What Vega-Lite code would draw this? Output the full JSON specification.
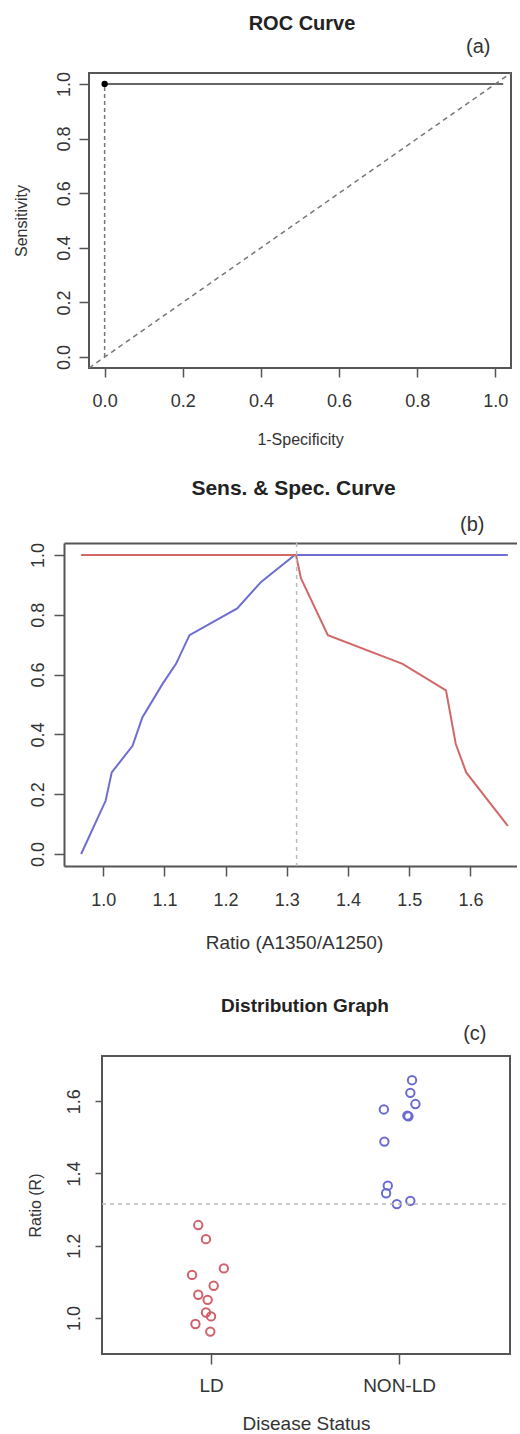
{
  "$schema": "https://vega.github.io/schema/vega-lite/v6.json",
  "background": "white",
  "padding": {"left": 0, "top": 13, "right": 0, "bottom": 0},
  "spacing": 30,
  "resolve": {"scale": {"color": "independent"}},
  "config": {
    "font": "Liberation Sans",
    "view": {"stroke": null},
    "axis": {
      "grid": false,
      "labelColor": "#333",
      "titleColor": "#333",
      "tickColor": "#555",
      "tickWidth": 1.5,
      "domainColor": "#555",
      "domainWidth": 2,
      "labelFont": "Liberation Sans",
      "titleFont": "Liberation Sans",
      "titleFontWeight": "normal",
      "labelFlush": false,
      "labelOverlap": false,
      "minExtent": 0
    },
    "title": {"font": "Liberation Sans", "fontWeight": "bold", "color": "#222", "anchor": "middle", "frame": "group"}
  },
  "vconcat": [
    {"spacing": 0, "hconcat": [
    {"width": 12, "height": 1, "data": {"values": []}, "mark": "point"},
    {
      "width": 422,
      "height": 295,
      "title": {"text": "ROC Curve", "fontSize": 20, "offset": 2, "dx": 2},
      "view": {"stroke": "#555", "strokeWidth": 2},
      "resolve": {"axis": {"x": "independent"}},
      "layer": [
        {
          "data": {"values": [{"fpr": 0, "sens": 1}, {"fpr": 1.02, "sens": 1}]},
          "mark": {"type": "line", "color": "#666", "strokeWidth": 2},
          "encoding": {
            "x": {"field": "fpr", "type": "quantitative", "scale": {"domain": [-0.04, 1.04], "nice": false, "zero": false},
              "axis": {"orient": "bottom", "values": [0, 0.2, 0.4, 0.6, 0.8, 1], "format": ".1f", "title": "1-Specificity", "tickSize": 9, "labelPadding": 15, "labelFontSize": 18, "titleFontSize": 16, "titlePadding": 21, "domain": false}},
            "y": {"field": "sens", "type": "quantitative", "scale": {"domain": [-0.04, 1.04], "nice": false, "zero": false},
              "axis": {"values": [0, 0.2, 0.4, 0.6, 0.8, 1], "format": ".1f", "title": "Sensitivity", "tickSize": 10, "labelPadding": 6, "labelFontSize": 18, "labelAngle": -90, "labelAlign": "center", "labelBaseline": "bottom", "titleFontSize": 16, "titlePadding": 26, "domain": false}}
          }
        },
        {
          "data": {"values": [{"fpr": 0, "sens": 0}, {"fpr": 0, "sens": 1}]},
          "mark": {"type": "line", "color": "#777", "strokeWidth": 1.5, "strokeDash": [4, 3]},
          "encoding": {
            "x": {"field": "fpr", "type": "quantitative", "axis": null},
            "y": {"field": "sens", "type": "quantitative",
              "axis": {"values": [0, 0.2, 0.4, 0.6, 0.8, 1], "format": ".1f", "title": "Sensitivity", "tickSize": 10, "labelPadding": 6, "labelFontSize": 18, "labelAngle": -90, "labelAlign": "center", "labelBaseline": "bottom", "titleFontSize": 16, "titlePadding": 26, "domain": false}},
            "order": {"field": "sens", "type": "quantitative"}
          }
        },
        {
          "data": {"values": [{"fpr": -0.04, "sens": -0.04}, {"fpr": 1.04, "sens": 1.04}]},
          "mark": {"type": "line", "color": "#777", "strokeWidth": 1.5, "strokeDash": [5, 4]},
          "encoding": {
            "x": {"field": "fpr", "type": "quantitative",
              "axis": {"orient": "top", "title": "(a)", "labels": false, "ticks": false, "domain": false, "titleFontSize": 20, "titleAlign": "right", "titleX": 401, "titlePadding": 17, "titleColor": "#333"}},
            "y": {"field": "sens", "type": "quantitative",
              "axis": {"values": [0, 0.2, 0.4, 0.6, 0.8, 1], "format": ".1f", "title": "Sensitivity", "tickSize": 10, "labelPadding": 6, "labelFontSize": 18, "labelAngle": -90, "labelAlign": "center", "labelBaseline": "bottom", "titleFontSize": 16, "titlePadding": 26, "domain": false}}
          }
        },
        {
          "data": {"values": [{"fpr": 0, "sens": 1}]},
          "mark": {"type": "point", "filled": true, "color": "#000", "size": 40, "opacity": 1},
          "encoding": {
            "x": {"field": "fpr", "type": "quantitative", "axis": null},
            "y": {"field": "sens", "type": "quantitative",
              "axis": {"values": [0, 0.2, 0.4, 0.6, 0.8, 1], "format": ".1f", "title": "Sensitivity", "tickSize": 10, "labelPadding": 6, "labelFontSize": 18, "labelAngle": -90, "labelAlign": "center", "labelBaseline": "bottom", "titleFontSize": 16, "titlePadding": 26, "domain": false}}
          }
        }
      ]
    }
    ]},
    {"spacing": 0, "hconcat": [
    {"width": 29, "height": 1, "data": {"values": []}, "mark": "point"},
    {
      "width": 453,
      "height": 323,
      "title": {"text": "Sens. & Spec. Curve", "fontSize": 21, "offset": 15, "dx": 3},
      "resolve": {"axis": {"x": "independent"}},
      "layer": [
        {
          "data": {"values": [
            {"ratio": 0.964, "val": 0.0, "series": "Sensitivity"},
            {"ratio": 1.004, "val": 0.178, "series": "Sensitivity"},
            {"ratio": 1.014, "val": 0.273, "series": "Sensitivity"},
            {"ratio": 1.048, "val": 0.362, "series": "Sensitivity"},
            {"ratio": 1.064, "val": 0.457, "series": "Sensitivity"},
            {"ratio": 1.097, "val": 0.569, "series": "Sensitivity"},
            {"ratio": 1.119, "val": 0.636, "series": "Sensitivity"},
            {"ratio": 1.141, "val": 0.732, "series": "Sensitivity"},
            {"ratio": 1.219, "val": 0.821, "series": "Sensitivity"},
            {"ratio": 1.258, "val": 0.91, "series": "Sensitivity"},
            {"ratio": 1.313, "val": 1.0, "series": "Sensitivity"},
            {"ratio": 1.661, "val": 1.0, "series": "Sensitivity"},
            {"ratio": 0.964, "val": 1.0, "series": "Specificity"},
            {"ratio": 1.315, "val": 1.0, "series": "Specificity"},
            {"ratio": 1.323, "val": 0.922, "series": "Specificity"},
            {"ratio": 1.367, "val": 0.732, "series": "Specificity"},
            {"ratio": 1.489, "val": 0.636, "series": "Specificity"},
            {"ratio": 1.56, "val": 0.547, "series": "Specificity"},
            {"ratio": 1.576, "val": 0.368, "series": "Specificity"},
            {"ratio": 1.593, "val": 0.273, "series": "Specificity"},
            {"ratio": 1.661, "val": 0.094, "series": "Specificity"}
          ]},
          "mark": {"type": "line", "strokeWidth": 2},
          "encoding": {
            "x": {"field": "ratio", "type": "quantitative", "scale": {"domain": [0.936, 1.676], "nice": false, "zero": false},
              "axis": {"orient": "bottom", "values": [1.0, 1.1, 1.2, 1.3, 1.4, 1.5, 1.6], "format": ".1f", "title": ["Ratio (A1350/A1250)", " "], "titleLineHeight": 14, "titleX": 230, "tickSize": 10, "labelPadding": 15, "labelFontSize": 18, "titleFontSize": 19, "titlePadding": 24, "domain": true}},
            "y": {"field": "val", "type": "quantitative", "scale": {"domain": [-0.04, 1.04], "nice": false, "zero": false},
              "axis": {"values": [0, 0.2, 0.4, 0.6, 0.8, 1], "format": ".1f", "title": null, "tickSize": 10, "labelPadding": 7, "labelFontSize": 18, "labelAngle": -90, "labelAlign": "center", "labelBaseline": "bottom", "domain": true}},
            "color": {"field": "series", "type": "nominal", "scale": {"domain": ["Sensitivity", "Specificity"], "range": ["#6d6dd2", "#d06868"]}, "legend": null}
          }
        },
        {
          "data": {"values": [{"cutoff": 1.316}]},
          "mark": {"type": "rule", "color": "#bbb", "strokeWidth": 1.5, "strokeDash": [4, 4]},
          "encoding": {
            "x": {"field": "cutoff", "type": "quantitative",
              "axis": {"orient": "top", "title": "(b)", "labels": false, "ticks": false, "domain": true, "titleFontSize": 20, "titleAlign": "right", "titleX": 420, "titlePadding": 9, "titleColor": "#333"}}
          }
        }
      ]
    }
    ]},
    {"spacing": 0, "hconcat": [
    {"width": 26, "height": 1, "data": {"values": []}, "mark": "point"},
    {
      "width": 408,
      "height": 298,
      "title": {"text": "Distribution Graph", "fontSize": 19, "offset": 7, "dx": -1},
      "view": {"stroke": "#555", "strokeWidth": 2},
      "resolve": {"axis": {"x": "independent"}},
      "layer": [
        {
          "data": {"values": [
            {"grp": 0.932, "ratio": 1.257, "status": "LD"},
            {"grp": 0.973, "ratio": 1.218, "status": "LD"},
            {"grp": 1.068, "ratio": 1.137, "status": "LD"},
            {"grp": 0.899, "ratio": 1.119, "status": "LD"},
            {"grp": 1.014, "ratio": 1.089, "status": "LD"},
            {"grp": 0.932, "ratio": 1.064, "status": "LD"},
            {"grp": 0.982, "ratio": 1.05, "status": "LD"},
            {"grp": 0.973, "ratio": 1.015, "status": "LD"},
            {"grp": 1.0, "ratio": 1.004, "status": "LD"},
            {"grp": 0.917, "ratio": 0.983, "status": "LD"},
            {"grp": 0.996, "ratio": 0.962, "status": "LD"},
            {"grp": 2.069, "ratio": 1.658, "status": "NON-LD"},
            {"grp": 2.06, "ratio": 1.623, "status": "NON-LD"},
            {"grp": 2.087, "ratio": 1.592, "status": "NON-LD"},
            {"grp": 1.919, "ratio": 1.577, "status": "NON-LD"},
            {"grp": 2.044, "ratio": 1.56, "status": "NON-LD"},
            {"grp": 2.05, "ratio": 1.558, "status": "NON-LD"},
            {"grp": 1.922, "ratio": 1.488, "status": "NON-LD"},
            {"grp": 1.94, "ratio": 1.366, "status": "NON-LD"},
            {"grp": 1.931, "ratio": 1.345, "status": "NON-LD"},
            {"grp": 2.06, "ratio": 1.324, "status": "NON-LD"},
            {"grp": 1.988, "ratio": 1.315, "status": "NON-LD"}
          ]},
          "mark": {"type": "point", "filled": false, "strokeWidth": 2, "size": 70, "opacity": 1},
          "encoding": {
            "x": {"field": "grp", "type": "quantitative", "scale": {"domain": [0.42, 2.59], "nice": false, "zero": false},
              "axis": {"orient": "bottom", "values": [1, 2], "labelExpr": "datum.value == 1 ? 'LD' : 'NON-LD'", "title": "Disease Status", "tickSize": 10, "labelPadding": 12, "labelFontSize": 19, "titleFontSize": 19, "titlePadding": 19, "domain": false}},
            "y": {"field": "ratio", "type": "quantitative", "scale": {"domain": [0.9, 1.725], "nice": false, "zero": false},
              "axis": {"values": [1.0, 1.2, 1.4, 1.6], "format": ".1f", "title": "Ratio (R)", "titleFontSize": 16, "titlePadding": 22, "tickSize": 7, "labelPadding": 12, "labelFontSize": 18, "labelAngle": -90, "labelAlign": "center", "labelBaseline": "bottom", "domain": false}},
            "color": {"field": "status", "type": "nominal", "scale": {"domain": ["LD", "NON-LD"], "range": ["#d0606a", "#6a6ad4"]}, "legend": null}
          }
        },
        {
          "data": {"values": [{"cutoff": 1.315}]},
          "mark": {"type": "rule", "color": "#bbb", "strokeWidth": 1.5, "strokeDash": [4, 4]},
          "encoding": {
            "x": {"datum": 0.42, "type": "quantitative",
              "axis": {"orient": "top", "title": "(c)", "labels": false, "ticks": false, "domain": false, "titleFontSize": 20, "titleAlign": "right", "titleX": 384, "titlePadding": 13, "titleColor": "#333"}},
            "x2": {"datum": 2.59},
            "y": {"field": "cutoff", "type": "quantitative",
              "axis": {"values": [1.0, 1.2, 1.4, 1.6], "format": ".1f", "title": "Ratio (R)", "titleFontSize": 16, "titlePadding": 22, "tickSize": 7, "labelPadding": 12, "labelFontSize": 18, "labelAngle": -90, "labelAlign": "center", "labelBaseline": "bottom", "domain": false}}
          }
        }
      ]
    }
    ]}
  ]
}
